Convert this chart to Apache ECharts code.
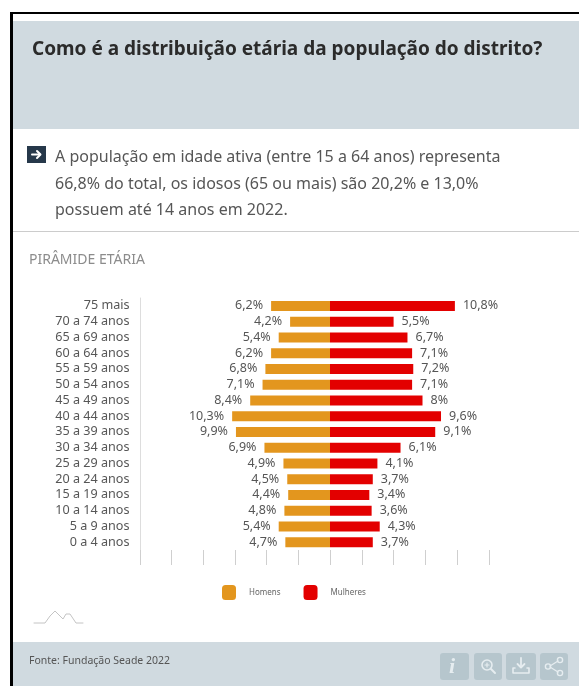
<!DOCTYPE html>
<html>
<head>
<meta charset="utf-8">
<style>
html, body { margin: 0; padding: 0; background: #fff; }
#chart { width: 579px; height: 686px; }
</style>
<script src="https://cdn.jsdelivr.net/npm/echarts@6/dist/echarts.min.js"></script>
</head>
<body>
<div id="chart"></div>
<script>
const categories = ['75 mais', '70 a 74 anos', '65 a 69 anos', '60 a 64 anos', '55 a 59 anos', '50 a 54 anos', '45 a 49 anos', '40 a 44 anos', '35 a 39 anos', '30 a 34 anos', '25 a 29 anos', '20 a 24 anos', '15 a 19 anos', '10 a 14 anos', '5 a 9 anos', '0 a 4 anos'];
const homens = [6.2, 4.2, 5.4, 6.2, 6.8, 7.1, 8.4, 10.3, 9.9, 6.9, 4.9, 4.5, 4.4, 4.8, 5.4, 4.7];
const mulheres = [10.8, 5.5, 6.7, 7.1, 7.2, 7.1, 8, 9.6, 9.1, 6.1, 4.1, 3.7, 3.4, 3.6, 4.3, 3.7];
const seriesNames = ['Homens', 'Mulheres'];
const titleText = 'Como é a distribuição etária da população do distrito?';
const bodyLines = [
    'A população em idade ativa (entre 15 a 64 anos) representa',
    '66,8% do total, os idosos (65 ou mais) são 20,2% e 13,0%',
    'possuem até 14 anos em 2022.'
];
const chartName = 'PIRÂMIDE ETÁRIA';
const sourceText = 'Fonte: Fundação Seade 2022';

const FONT = '"Noto Sans", sans-serif';
const PANEL = '#d0dae0';
const BUTTON = '#b6c6cd';
const ICON = '#e6edf0';
const TEXT = '#565656';

function pct(v) {
    return String(v).replace('.', ',') + '%';
}

function txt(x, y, text, size, color, weight, style) {
    return {
        type: 'text', x: x, y: y,
        style: {
            text: text, fill: color, verticalAlign: 'middle',
            font: (style || 'normal') + ' ' + (weight || 'normal') + ' ' + size + 'px ' + FONT
        }
    };
}
function box(x, y, w, h, color, r) {
    return { type: 'rect', shape: { x: x, y: y, width: w, height: h, r: r || 0 }, style: { fill: color } };
}
function stroke(points, color, width) {
    return { type: 'polyline', shape: { points: points }, style: { stroke: color, fill: null, lineWidth: width, lineCap: 'round', lineJoin: 'round' } };
}
function ring(cx, cy, r, color, width) {
    return { type: 'circle', shape: { cx: cx, cy: cy, r: r }, style: { stroke: color, fill: null, lineWidth: width } };
}

const decoration = [
    // page frame
    box(10, 12, 569, 2, '#000'),
    box(10, 12, 3, 674, '#000'),
    // header and footer
    box(13, 21, 566, 108, PANEL),
    box(13, 642, 566, 44, PANEL),
    box(13, 231, 566, 1, '#cccccc'),
    txt(32, 50, titleText, 19, '#2b2b2b', 'bold'),
    // arrow bullet
    box(27, 146, 19, 17, '#26384a'),
    stroke([[32, 154.5], [40, 154.5]], '#fff', 2),
    stroke([[37, 151], [40.5, 154.5], [37, 158]], '#fff', 2),
    txt(55, 157.5, bodyLines[0], 16, TEXT),
    txt(55, 184, bodyLines[1], 16, TEXT),
    txt(55, 210.5, bodyLines[2], 16, TEXT),
    txt(29, 260, chartName, 14, '#8c8c8c'),
    // little logo
    stroke([[34, 623], [45, 623], [50, 616], [55, 611], [60, 616], [63, 619], [66, 614], [70, 614], [76, 623], [83, 623]], '#c4c4c4', 1),
    txt(29, 661, sourceText, 10.5, '#555555'),
    // buttons
    box(440, 653, 29, 27, BUTTON, 3),
    box(474, 653, 28, 27, BUTTON, 3),
    box(506, 653, 30, 27, BUTTON, 3),
    box(540, 653, 28, 27, BUTTON, 3),
    {
        type: 'text', x: 449, y: 667,
        style: { text: 'i', fill: ICON, verticalAlign: 'middle', font: 'italic bold 22px "Liberation Serif", serif' }
    },
    ring(487, 665, 5, ICON, 1.6),
    stroke([[491, 669], [495, 673]], ICON, 2),
    stroke([[485, 665], [489, 665]], ICON, 1.2),
    stroke([[487, 663], [487, 667]], ICON, 1.2),
    stroke([[521, 658], [521, 667]], ICON, 1.8),
    stroke([[517.5, 664], [521, 667.5], [524.5, 664]], ICON, 1.8),
    stroke([[515, 668], [513, 668], [513, 673], [529, 673], [529, 668], [527, 668]], ICON, 1.6),
    stroke([[550, 666], [558, 661]], ICON, 1.3),
    stroke([[550, 667], [558, 672]], ICON, 1.3),
    ring(548, 666.5, 2.6, ICON, 1.4),
    ring(560, 660, 2.6, ICON, 1.4),
    ring(560, 673, 2.6, ICON, 1.4)
];

const chart = echarts.init(document.getElementById('chart'));
const gridTop = 298, gridHeight = 252;

const option = {
    animation: false,
    backgroundColor: '#fff',
    color: ['#e3961e', '#e30000'],
    textStyle: { fontFamily: FONT },
    graphic: decoration,
    legend: {
        data: seriesNames,
        left: 222,
        top: 585,
        icon: 'roundRect',
        itemWidth: 14,
        itemHeight: 15,
        itemGap: 23,
        padding: 0,
        textStyle: { fontSize: 8, color: '#666', padding: [0, 0, 0, 8] }
    },
    grid: [
        { left: 140, width: 190, top: gridTop, height: gridHeight },
        { left: 330, width: 159, top: gridTop, height: gridHeight }
    ],
    // each side has its own scale in the original
    xAxis: [
        {
            gridIndex: 0, type: 'value', inverse: true, min: 0, max: 20, interval: 3.3333333333,
            axisLabel: { show: false }, axisLine: { show: false }, splitLine: { show: false },
            axisTick: { show: true, length: 15, lineStyle: { color: '#cfcfcf' } }
        },
        {
            gridIndex: 1, type: 'value', min: 0, max: 13.75, interval: 2.75,
            axisLabel: { show: false }, axisLine: { show: false }, splitLine: { show: false },
            axisTick: { show: true, length: 15, lineStyle: { color: '#cfcfcf' } }
        }
    ],
    yAxis: [
        {
            gridIndex: 0, type: 'category', data: categories, inverse: true, position: 'left',
            axisLine: { show: true, onZero: false, lineStyle: { color: '#dddddd' } },
            axisTick: { show: false },
            axisLabel: { color: TEXT, fontSize: 12.6, margin: 10.5, interval: 0 }
        },
        {
            gridIndex: 1, type: 'category', data: categories, inverse: true,
            axisLine: { show: false }, axisTick: { show: false }, axisLabel: { show: false }
        }
    ],
    series: [
        {
            name: seriesNames[0], type: 'bar', xAxisIndex: 0, yAxisIndex: 0, data: homens, barWidth: 10,
            label: { show: true, position: 'left', distance: 8, fontSize: 12.5, color: TEXT, formatter: p => pct(p.value) }
        },
        {
            name: seriesNames[1], type: 'bar', xAxisIndex: 1, yAxisIndex: 1, data: mulheres, barWidth: 10,
            label: { show: true, position: 'right', distance: 8, fontSize: 12.5, color: TEXT, formatter: p => pct(p.value) }
        }
    ]
};
chart.setOption(option);
</script>
</body>
</html>
